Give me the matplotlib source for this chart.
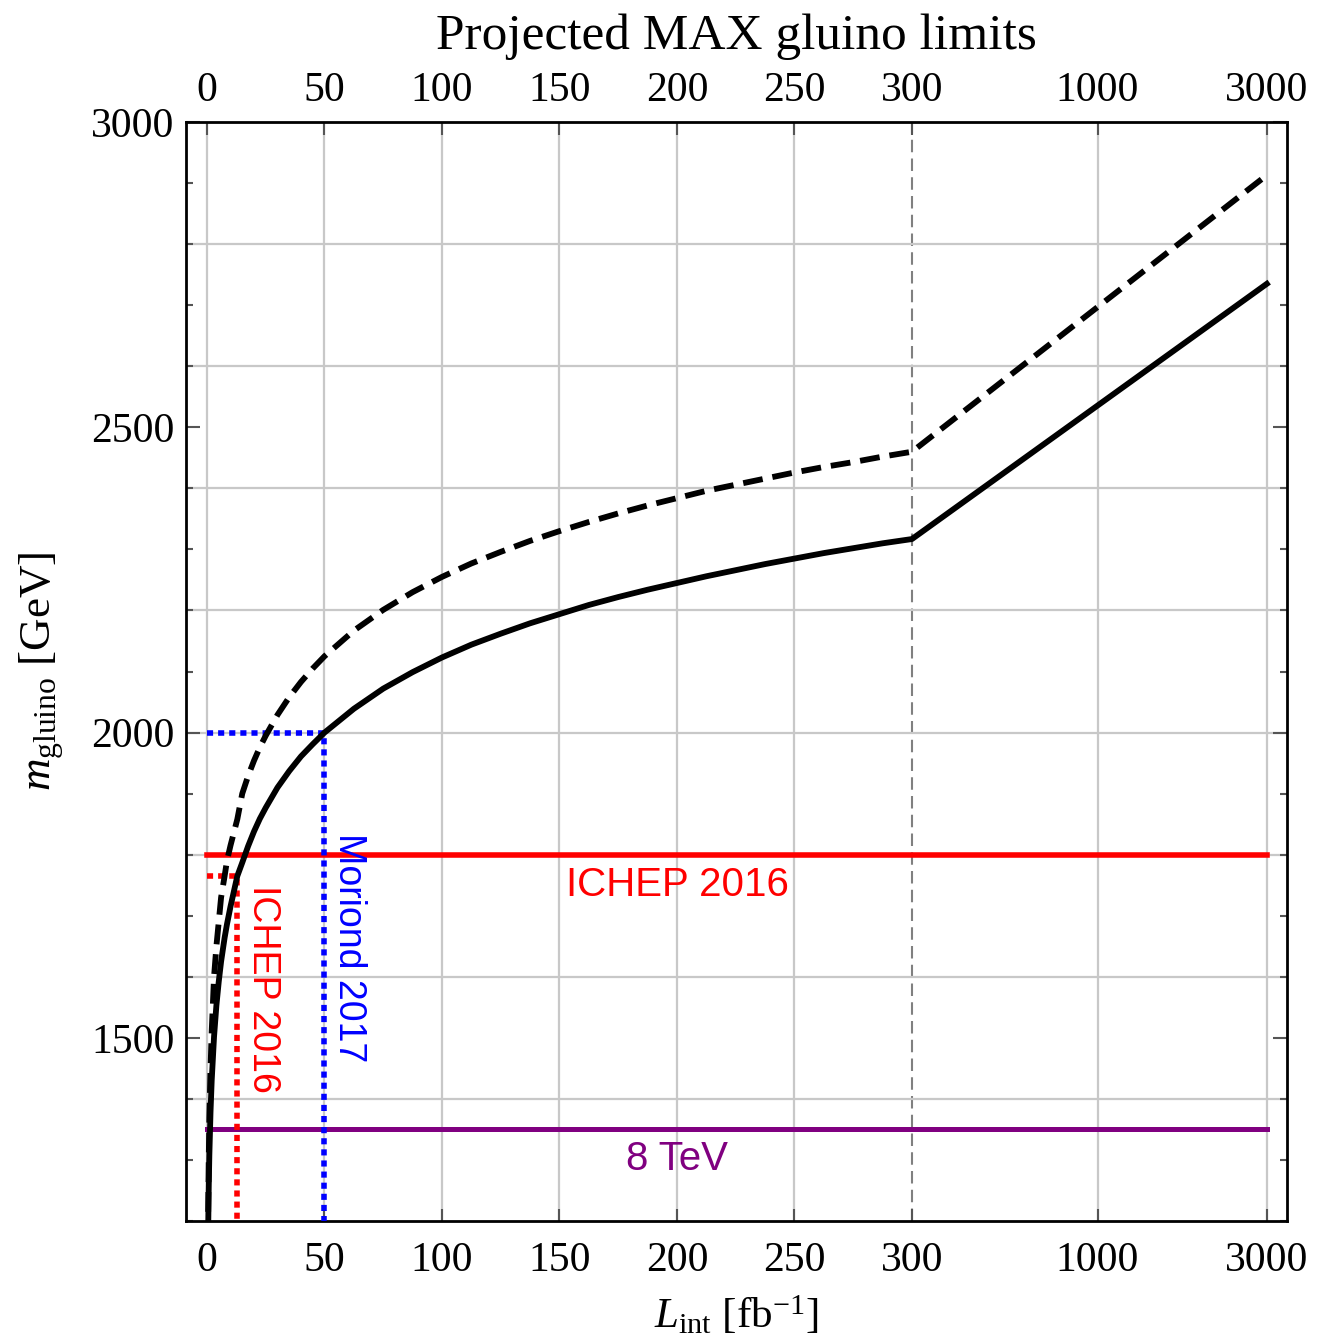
import matplotlib
matplotlib.use("Agg")
import matplotlib.pyplot as plt
import matplotlib.transforms as mtransforms
import numpy as np
from matplotlib.ticker import FixedLocator, MultipleLocator

plt.rcParams['font.family'] = 'Liberation Serif'
plt.rcParams['mathtext.fontset'] = 'custom'
plt.rcParams['mathtext.rm'] = 'Liberation Serif'
plt.rcParams['mathtext.it'] = 'Liberation Serif:italic'

# integrated luminosity (fb^-1) and projected gluino mass reach (GeV)
lumi_s = [0.5, 0.75, 1, 1.5, 2, 3, 4, 5, 6, 7.5, 8.5, 10, 12.9, 15, 17.5,
          20, 22.5, 25, 30, 35, 40, 45, 50, 62.5, 75, 87.5, 100, 112.5, 125,
          137.5, 150, 162.5, 175, 187.5, 200, 212.5, 225, 237.5, 250, 262.5,
          275, 287.5, 300, 3000]
m_solid = [1185, 1257, 1308, 1379, 1430, 1502, 1553, 1592, 1625, 1664, 1686,
           1715, 1765, 1787, 1814, 1838, 1859, 1877, 1910, 1937, 1961, 1981,
           2000, 2039, 2072, 2099, 2123, 2144, 2162, 2179, 2194, 2209, 2222,
           2234, 2245, 2256, 2266, 2276, 2285, 2294, 2302, 2310, 2317, 2735]
lumi_d = [0.5, 0.75, 1, 1.5, 2, 3, 4, 5, 6, 7.5, 8.5, 10, 12.9, 15, 17.5,
          20, 22.5, 25, 30, 35, 40, 45, 50, 62.5, 75, 87.5, 100, 112.5, 125,
          137.5, 150, 162.5, 175, 187.5, 200, 212.5, 225, 237.5, 250, 262.5,
          275, 287.5, 300, 3000]
m_dashed = [1215, 1300, 1370, 1450, 1510, 1600, 1650, 1690, 1730, 1765, 1790,
            1815, 1858, 1900, 1929, 1954, 1976, 1995, 2029, 2058, 2083, 2105,
            2125, 2167, 2201, 2230, 2255, 2277, 2296, 2314, 2330, 2345, 2359,
            2372, 2384, 2396, 2406, 2416, 2426, 2435, 2443, 2452, 2460, 2913]

# existing limits
ichep_m, ichep_L = 1800, 12.9
ichep_reach = 1765
moriond_m, moriond_L = 2000, 50
tev8_m = 1350

xticks = [0, 50, 100, 150, 200, 250, 300, 1000, 3000]


# linear up to 300 fb^-1, logarithmic beyond
def fwd(x):
    x = np.asarray(x, dtype=float)
    return np.where(x <= 300, x, 300 + 151 * np.log10(np.maximum(x, 1e-9) / 300))


def inv(y):
    y = np.asarray(y, dtype=float)
    return np.where(y <= 300, y, 300 * 10 ** ((np.minimum(y, 1000) - 300) / 151))


fig = plt.figure(figsize=(13.37, 13.44), dpi=100)
ax = fig.add_axes([0.139, 0.0915, 0.8236, 0.8177])
ax.set_xscale('function', functions=(fwd, inv))
ax.set_xlim(-9, 3420)
ax.set_ylim(1200, 3000)

grid_c = '#c8c8c8'
for xv in xticks:
    if xv == 300:
        ax.axvline(xv, color='#808080', lw=1.5, dashes=(6, 3), zorder=1)
    else:
        ax.axvline(xv, color=grid_c, lw=1.6, zorder=1)
for yv in range(1400, 3000, 200):
    ax.axhline(yv, color=grid_c, lw=1.6, zorder=1)

# limit lines
ax.plot([0, 3000], [ichep_m, ichep_m], color='#ff0000', lw=4.0, zorder=3)
ax.plot([0, 3000], [tev8_m, tev8_m], color='#800080', lw=3.6, zorder=3)
ax.plot([0, moriond_L, moriond_L], [moriond_m, moriond_m, 1200],
        color='#0000ff', lw=4.0, dashes=(1.1, 0.9), zorder=3)
ax.plot([0, ichep_L, ichep_L], [ichep_reach, ichep_reach, 1200],
        color='#ff0000', lw=4.0, dashes=(1.1, 0.9), zorder=3)

# projections
ax.plot(lumi_d, m_dashed, color='black', lw=4.2, dashes=(3.4, 1.7), zorder=4)
ax.plot(lumi_s, m_solid, color='black', lw=4.2, zorder=4)

sans = 'Liberation Sans'
ax.text(200, 1751, 'ICHEP 2016', color='#ff0000', fontsize=29, family=sans,
        ha='center', va='center', zorder=5)
ax.text(200, 1302, '8 TeV', color='#800080', fontsize=29, family=sans,
        ha='center', va='center', zorder=5)
ax.text(60.5, 1648, 'Moriond 2017', color='#0000ff', fontsize=27, family=sans,
        rotation=-90, ha='center', va='center', zorder=5)
ax.text(23.8, 1580, 'ICHEP 2016', color='#ff0000', fontsize=27, family=sans,
        rotation=-90, ha='center', va='center', zorder=5)

ax.xaxis.set_major_locator(FixedLocator(xticks))
ax.set_xticklabels([str(v) for v in xticks])
ax.xaxis.set_minor_locator(FixedLocator([]))
ax.yaxis.set_major_locator(MultipleLocator(500))
ax.yaxis.set_minor_locator(MultipleLocator(100))

ax.tick_params(axis='both', which='both', direction='in', color='#555555',
               labelsize=30, top=True, right=True, labeltop=True)
ax.tick_params(axis='x', which='major', length=9, width=1.5, pad=15)
ax.tick_params(axis='y', which='major', length=10, width=1.5, pad=8)
ax.tick_params(axis='y', which='minor', length=5, width=1.5)

# bring the top tick labels closer to the frame
drop = mtransforms.ScaledTranslation(0, -6.5 / 72, fig.dpi_scale_trans)
for t in ax.xaxis.get_major_ticks():
    t.label2.set_transform(t.label2.get_transform() + drop)

for s in ax.spines.values():
    s.set_linewidth(2.0)
    s.set_color('black')

ax.set_xlabel(r'$L_{\rm int}$ [fb$^{-1}$]', fontsize=31, labelpad=10)
ax.set_ylabel(r'$m_{\rm gluino}$ [GeV]', fontsize=32.5, labelpad=18)
fig.text(0.551, 0.973, 'Projected MAX gluino limits', fontsize=37,
         ha='center', va='center')

fig.savefig('out.png', dpi=100)
